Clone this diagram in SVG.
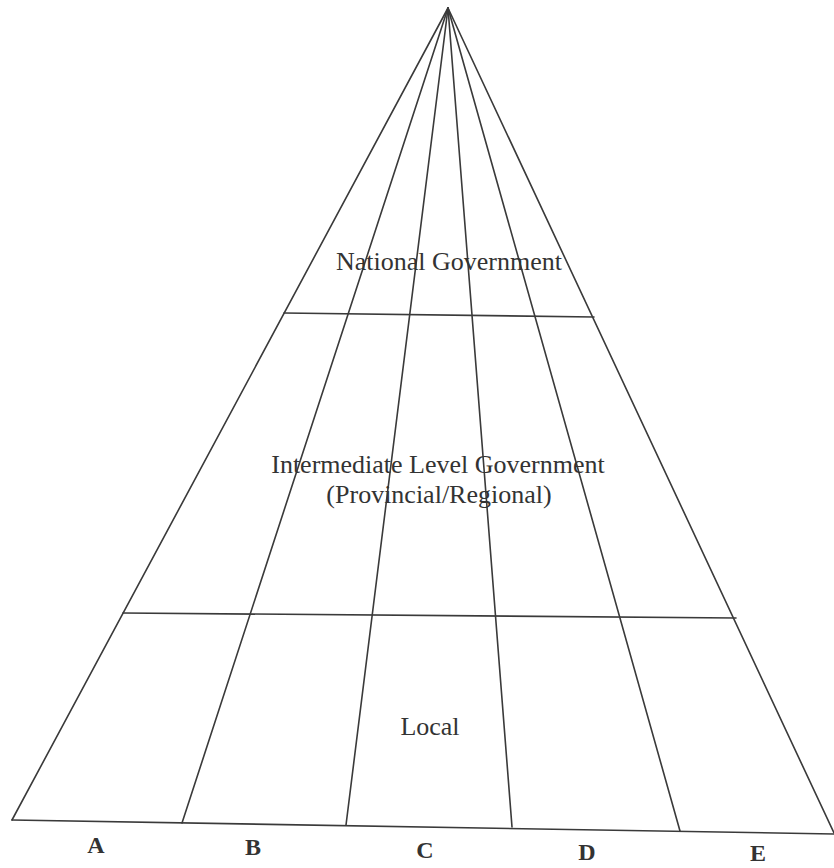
<svg xmlns="http://www.w3.org/2000/svg" width="834" height="868" viewBox="0 0 834 868">
<style>
.ln{stroke:#3a3a3a;stroke-width:1.6;fill:none;stroke-linecap:round}
.t{font-family:"Liberation Serif","Times New Roman",serif;font-size:26px;fill:#333;text-anchor:middle}
.lb{font-family:"Liberation Serif","Times New Roman",serif;font-size:24px;font-weight:bold;fill:#333;text-anchor:middle}
</style>
<rect width="834" height="868" fill="#fff"/>
<g id="connectors">
<line class="ln" x1="448" y1="8" x2="12" y2="820"/>
<line class="ln" x1="448" y1="8" x2="182" y2="823"/>
<line class="ln" x1="448" y1="8" x2="346" y2="825"/>
<line class="ln" x1="448" y1="8" x2="512" y2="827"/>
<line class="ln" x1="448" y1="8" x2="680" y2="831"/>
<line class="ln" x1="448" y1="8" x2="834" y2="833"/>
<line class="ln" x1="12" y1="820" x2="834" y2="834"/>
<line class="ln" x1="284" y1="313" x2="594" y2="317"/>
<line class="ln" x1="123" y1="613" x2="736" y2="618"/>
</g>
<g id="national"><text class="t" x="449" y="270">National Government</text></g>
<g id="intermediate"><text class="t" x="438" y="473">Intermediate Level Government</text><text class="t" x="439" y="503">(Provincial/Regional)</text></g>
<g id="local"><text class="t" x="430" y="735">Local</text></g>
<g id="labels">
<text class="lb" x="96" y="853">A</text>
<text class="lb" x="253" y="855">B</text>
<text class="lb" x="425" y="858">C</text>
<text class="lb" x="587" y="860">D</text>
<text class="lb" x="758" y="861">E</text>
</g>
</svg>
